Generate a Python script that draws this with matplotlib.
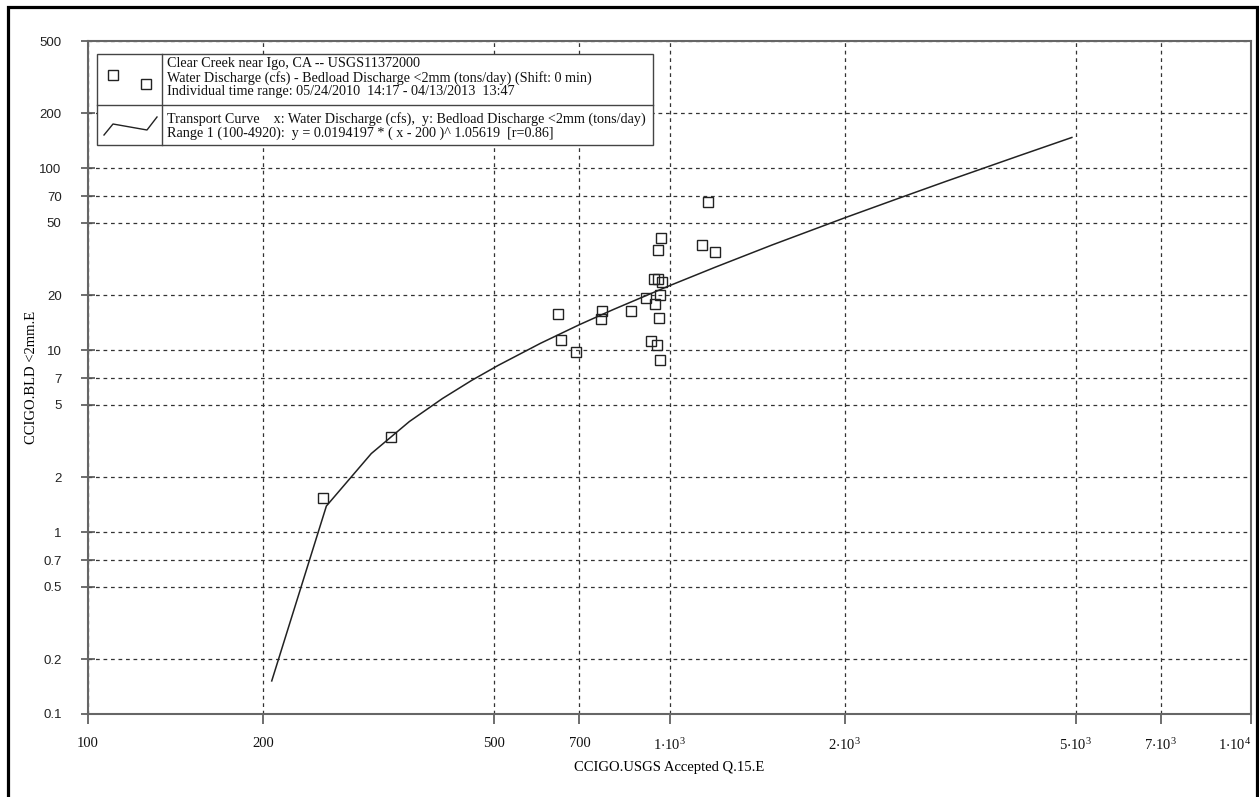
import matplotlib
matplotlib.use("Agg")
import matplotlib.pyplot as plt
from matplotlib.lines import Line2D
from matplotlib.patches import Rectangle
from matplotlib.ticker import FixedLocator, FixedFormatter, NullLocator

plt.rcParams["font.family"] = ["Liberation Serif", "DejaVu Serif"]
plt.rcParams["mathtext.fontset"] = "custom"
plt.rcParams["mathtext.rm"] = "Liberation Serif"

# measured samples (water discharge cfs, bedload tons/day)
q_cfs = [254, 332, 643, 652, 690, 765, 762, 860, 912, 940, 955, 970,
         962, 944, 966, 955, 959, 930, 950, 962, 1138, 1196, 1163]
bedload = [1.54, 3.33, 15.7, 11.3, 9.77, 16.5, 14.9, 16.5, 19.4, 24.6, 24.6, 23.6,
           20.1, 18.0, 41.4, 35.5, 15.1, 11.2, 10.7, 8.83, 37.9, 34.8, 65.5]

# transport curve vertices as drawn
curve_q = [207, 257, 307, 357, 407, 457, 507, 600, 700, 800, 1000,
           1200, 1500, 2000, 2500, 3000, 4000, 4920]
curve_bl = [0.152, 1.39, 2.70, 4.05, 5.42, 6.82, 8.23, 10.9, 13.8, 16.7, 22.6,
            28.6, 37.8, 53.3, 69.0, 85.0, 117.3, 147.5]

x_ticks = [100, 200, 500, 700, 1000, 2000, 5000, 7000, 10000]
x_labels = ["100", "200", "500", "700", r"$\mathregular{1{\cdot}10^{3}}$",
            r"$\mathregular{2{\cdot}10^{3}}$", r"$\mathregular{5{\cdot}10^{3}}$",
            r"$\mathregular{7{\cdot}10^{3}}$", r"$\mathregular{1{\cdot}10^{4}}$"]
y_ticks = [0.1, 0.2, 0.5, 0.7, 1, 2, 5, 7, 10, 20, 50, 70, 100, 200, 500]
y_labels = ["0.1", "0.2", "0.5", "0.7", "1", "2", "5", "7", "10", "20",
            "50", "70", "100", "200", "500"]

W, H = 1259, 797
fig = plt.figure(figsize=(W / 100, H / 100), dpi=100)
ax = fig.add_axes([88 / W, 1 - 714 / H, (1251 - 88) / W, (714 - 41) / H])

ax.plot(curve_q, curve_bl, color="#222222", lw=1.1, zorder=3)
ax.plot(q_cfs, bedload, ls="none", marker="s", ms=7.5, mfc="none",
        mec="#222222", mew=1.0, zorder=4)

ax.set_xscale("log")
ax.set_yscale("log")
ax.set_xlim(100, 10000)
ax.set_ylim(0.1, 500)

ax.xaxis.set_major_locator(FixedLocator(x_ticks))
ax.xaxis.set_major_formatter(FixedFormatter(x_labels))
ax.xaxis.set_minor_locator(NullLocator())
ax.yaxis.set_major_locator(FixedLocator(y_ticks))
ax.yaxis.set_major_formatter(FixedFormatter(y_labels))
ax.yaxis.set_minor_locator(NullLocator())

ax.grid(True, which="major", color="#333333", lw=0.9, ls=(0, (3, 3)))
for s in ax.spines.values():
    s.set_color("#666666")
    s.set_linewidth(1.5)

ax.tick_params(axis="x", direction="out", length=7, width=1.2, color="#555555",
               pad=9.5, labelsize=10.5, labelcolor="#111111")
ax.tick_params(axis="y", direction="inout", length=10, width=1.2, color="#555555",
               pad=14, labelcolor="#222222")
for lab in ax.get_yticklabels():
    lab.set_family("Liberation Sans")
    lab.set_fontsize(9.5)
# last x label sits inside the frame
xt = ax.get_xticklabels()
xt[-1].set_ha("right")

ax.set_xlabel("CCIGO.USGS Accepted Q.15.E", fontsize=10.5, labelpad=6)
ax.set_ylabel("CCIGO.BLD <2mm.E", fontsize=10.5, labelpad=1)


def fx(x):
    return x / W


def fy(y):
    return 1 - y / H


# legend box drawn by hand
lc = "#444444"
fig.add_artist(Rectangle((fx(97), fy(145)), fx(653) - fx(97), fy(54) - fy(145),
                         transform=fig.transFigure, fill=True, fc="white",
                         ec=lc, lw=1.0, zorder=10))
fig.add_artist(Line2D([fx(97), fx(653)], [fy(105), fy(105)], color=lc, lw=1.0, zorder=11))
fig.add_artist(Line2D([fx(162), fx(162)], [fy(54), fy(145)], color=lc, lw=1.0, zorder=11))
fig.add_artist(Line2D([fx(113), fx(146)], [fy(75), fy(84)], ls="none", marker="s",
                      ms=7.5, mfc="none", mec="#222222", mew=1.0, zorder=11))
fig.add_artist(Line2D([fx(104), fx(113), fx(147), fx(157)],
                      [fy(135), fy(124), fy(130), fy(117)],
                      color="#222222", lw=1.0, zorder=11))

legend_lines = [
    (64, "Clear Creek near Igo, CA -- USGS11372000"),
    (78, "Water Discharge (cfs) - Bedload Discharge <2mm (tons/day) (Shift: 0 min)"),
    (92, "Individual time range: 05/24/2010  14:17 - 04/13/2013  13:47"),
    (119, "Transport Curve    x: Water Discharge (cfs),  y: Bedload Discharge <2mm (tons/day)"),
    (133, "Range 1 (100-4920):  y = 0.0194197 * ( x - 200 )^ 1.05619  [r=0.86]"),
]
for ypix, txt in legend_lines:
    fig.text(fx(167), fy(ypix), txt, fontsize=10.2, va="center", ha="left",
             color="#111111", zorder=12)

# outer frame
fig.add_artist(Rectangle((fx(8), fy(805)), fx(1257) - fx(8), fy(7) - fy(805),
                         transform=fig.transFigure, fill=False, ec="black",
                         lw=2.3, zorder=20))

fig.savefig("out.png", dpi=100)
